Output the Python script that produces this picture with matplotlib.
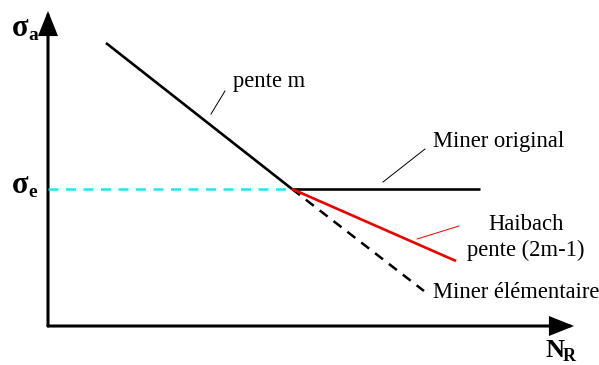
import matplotlib
matplotlib.use("Agg")
import matplotlib.pyplot as plt
from matplotlib.patches import FancyArrowPatch

plt.rcParams["font.family"] = ["Liberation Serif", "DejaVu Serif"]

# schematic coordinates (pixel-like units, y downward)
origin = (48, 326)
x_axis_end = 574
y_axis_end = 11

knee = (292, 189)
pente_m_x = [106, knee[0]]
pente_m_y = [43, knee[1]]
original_x = [knee[0], 480]
original_y = [knee[1], knee[1]]
haibach_x = [knee[0], 456]
haibach_y = [knee[1], 261]
elementaire_x = [knee[0], 424]
elementaire_y = [knee[1], 291]
sigma_e_x = [origin[0], knee[0]]
sigma_e_y = [knee[1], knee[1]]

fig = plt.figure(figsize=(5.99, 3.65), dpi=100)
ax = fig.add_axes([0, 0, 1, 1])
ax.set_xlim(0, 599)
ax.set_ylim(365, 0)
ax.axis("off")

# axes with arrows
for end in [(x_axis_end, origin[1]), (origin[0], y_axis_end)]:
    ax.add_patch(FancyArrowPatch(origin, end, arrowstyle="-|>,head_length=1.0,head_width=0.4",
                                 mutation_scale=14, lw=2.2, color="black",
                                 shrinkA=0, shrinkB=0, joinstyle="miter"))

ax.plot(sigma_e_x, sigma_e_y, color="#22e5f0", lw=1.8, ls=(0, (4, 3)))
ax.plot(elementaire_x, elementaire_y, color="black", lw=1.8, ls=(0, (4, 3)))
ax.plot(pente_m_x, pente_m_y, color="black", lw=1.9, solid_capstyle="butt")
ax.plot(original_x, original_y, color="black", lw=1.9, solid_capstyle="butt")
ax.plot(haibach_x, haibach_y, color="#ee0000", lw=1.9, solid_capstyle="butt")

# leader lines
ax.plot([211, 225], [114, 91], color="black", lw=0.7)
ax.plot([383, 425], [182, 149], color="black", lw=0.7)
ax.plot([417, 459], [239, 226], color="#ee0000", lw=0.7)

fs = 16.3
ax.text(233, 82, "pente m", fontsize=fs, ha="left", va="center")
ax.text(433, 142, "Miner original", fontsize=fs, ha="left", va="center")
ax.text(526, 224, "Haibach", fontsize=fs, ha="center", va="center")
ax.text(526, 250, "pente (2m-1)", fontsize=fs, ha="center", va="center")
ax.text(433, 292, "Miner élémentaire", fontsize=fs, ha="left", va="center")

# axis symbols: bold main letter + bold subscript
def symbol(x, y, main, sub, size, sub_dx, sub_size):
    ax.text(x, y, main, fontsize=size, fontweight="bold", ha="left", va="baseline")
    ax.text(x + sub_dx, y + 4, sub, fontsize=sub_size,
            fontweight="bold", ha="left", va="baseline")

symbol(12, 36, "σ", "a", 22, 16, 14)
symbol(12, 193, "σ", "e", 22, 16, 14)
symbol(545, 357, "N", "R", 19, 18, 13)

fig.savefig("out.png", dpi=100)
